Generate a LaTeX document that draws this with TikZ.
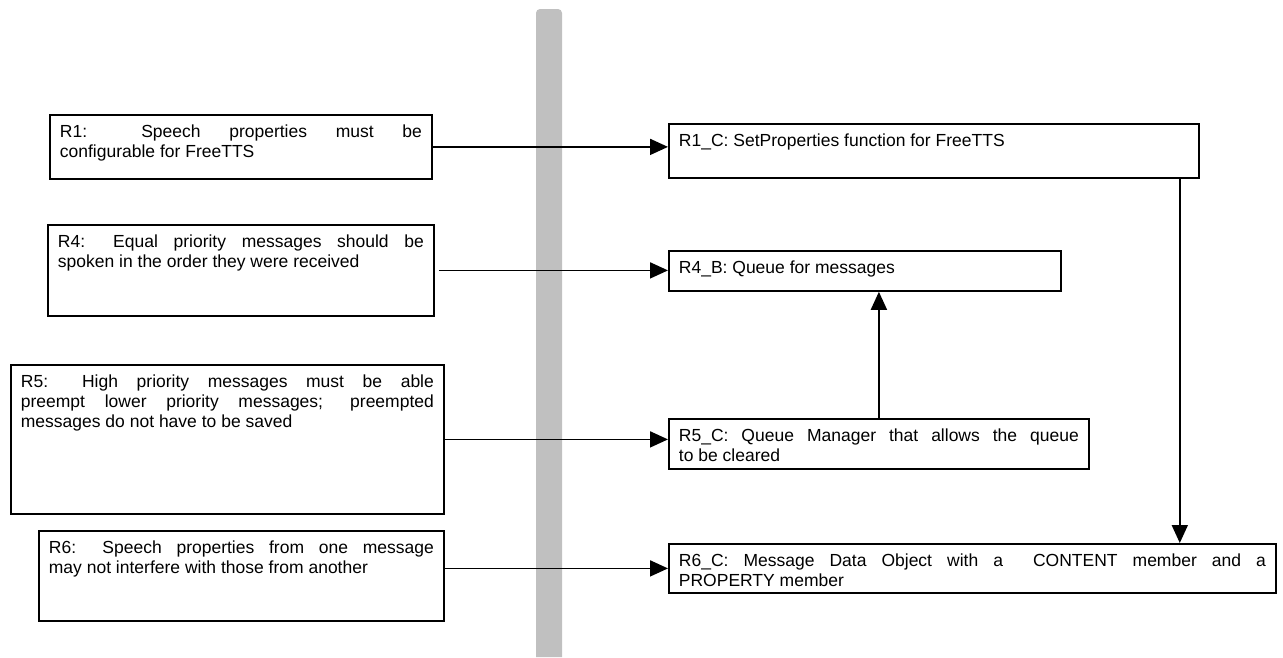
\documentclass[tikz,border=0pt]{standalone}
\usepackage{fontspec}
\setmainfont{Liberation Sans}
\usetikzlibrary{arrows.meta}
\definecolor{barcol}{HTML}{C0C0C0}
\newlength{\xpad}\setlength{\xpad}{10pt}
\newlength{\ypad}\setlength{\ypad}{10pt}
\newcommand{\reqbox}[6]{%
  \node[reqnode] (#1) at (#2,#3)
  {\begin{minipage}[t][\dimexpr#5pt-2\ypad\relax][t]{\dimexpr#4pt-2\xpad\relax}#6\end{minipage}};}
\tikzset{
  reqnode/.style={draw, line width=1.8pt, anchor=north west, fill=white,
    inner xsep=\xpad, inner ysep=\ypad,
    font=\fontsize{17.5pt}{20pt}\selectfont},
  link/.style={line width=1.8pt, -{Triangle[length=18pt,width=16pt]}}
}
\begin{document}
\begin{tikzpicture}[x=1pt,y=-1pt]
\useasboundingbox (0,0) rectangle (1283,657);
\fill[white] (0,0) rectangle (1283,657);
% separator bar
\fill[barcol, rounded corners=4pt] (536,657) -- (536,9) -- (562,9) [sharp corners] -- (562,657) -- cycle;

\reqbox{R1}{49}{114}{382}{64}{R1: Speech properties must be\linebreak configurable for FreeTTS}
\reqbox{R1C}{668}{123}{530}{54}{R1\_C: SetProperties function for FreeTTS}
\reqbox{R4}{47}{224}{386}{91}{R4: Equal priority messages should be\linebreak spoken in the order they were received}
\reqbox{R4B}{668}{250}{392}{40}{R4\_B: Queue for messages}
\reqbox{R5}{10}{364}{433}{149}{R5: High priority messages must be able\linebreak preempt lower priority messages; preempted\linebreak messages do not have to be saved}
\reqbox{R5C}{668}{418}{420}{50}{R5\_C: Queue Manager that allows the queue\linebreak to be cleared}
\reqbox{R6}{38}{530}{405}{90}{R6: Speech properties from one message\linebreak may not interfere with those from another}
\reqbox{R6C}{668}{543}{607}{49}{R6\_C: Message Data Object with a \ CONTENT member and a\linebreak PROPERTY member}

\draw[link] (R1.east) -- (R1.east -| R1C.west);
\draw[link, shorten <=4pt] (R4.east) -- (R4.east -| R4B.west);
\draw[link] (R5.east) -- (R5.east -| R5C.west);
\draw[link] (R6.east |- R6C.west) -- (R6C.west);
\draw[link] (R5C.north) -- (R5C.north |- R4B.south);
\coordinate (down) at ([xshift=-20pt]R1C.south east);
\draw[link] (down) -- (down |- R6C.north);
\end{tikzpicture}
\end{document}
